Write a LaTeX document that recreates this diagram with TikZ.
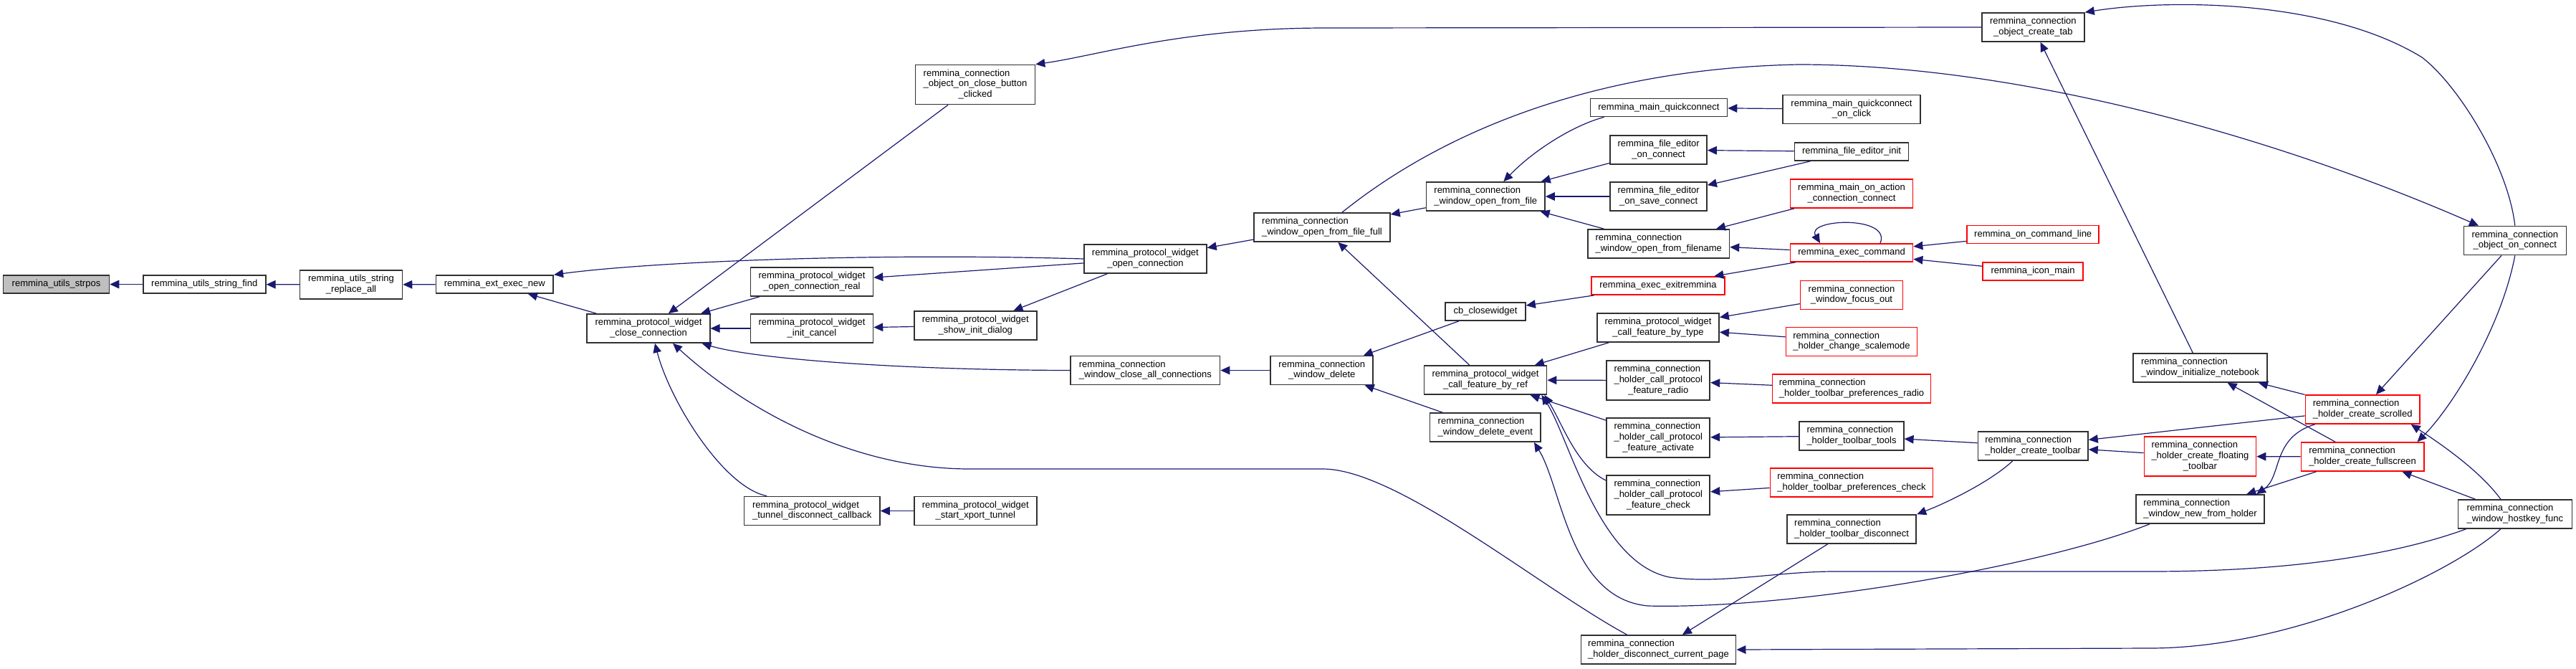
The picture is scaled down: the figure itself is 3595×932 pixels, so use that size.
\documentclass[tikz,border=0pt]{standalone}
\usepackage{fontspec}
\setmainfont{Liberation Sans}
\usepackage{tikz}
\usetikzlibrary{arrows.meta}
\definecolor{edgeblue}{HTML}{191970}
\definecolor{boxline}{HTML}{303030}
\definecolor{focus}{HTML}{BFBFBF}
\definecolor{cutred}{HTML}{FF0000}
\newcommand{\graphfont}{\fontsize{6.5}{7.35}\selectfont}
\newcommand{\lbl}[2]{\begin{tabular}{@{}l@{}}#1\\\multicolumn{1}{@{}c@{}}{#2}\end{tabular}}

\begin{document}
\begin{tikzpicture}[
  x=0.5pt,y=-0.5pt,
  font=\graphfont,
  fn/.style={draw=boxline,line width=0.85pt,fill=white,inner sep=0pt,
    minimum height=12.5pt,text=black},
  twoline/.style={minimum height=20pt},
  threeline/.style={minimum height=27.5pt},
  trunc/.style={draw=cutred},
  call/.style={{Triangle[length=6.5pt,width=5.8pt]}-,draw=edgeblue,fill=none,line width=0.6pt}
]
\useasboundingbox (0,0) rectangle (3595,932);

\node[fn,fill=focus,minimum width=73.9pt] (strpos) at (78.5,396.5) {remmina\_utils\_strpos};
\node[fn,minimum width=85.5pt] (sfind) at (285.3,396.5) {remmina\_utils\_string\_find};
\node[fn,twoline,minimum width=71.4pt] (sreplace) at (490,397) {\lbl{remmina\_utils\_string}{\_replace\_all}};
\node[fn,minimum width=81.9pt] (extnew) at (690.3,396.5) {remmina\_ext\_exec\_new};
\node[fn,twoline,minimum width=85.7pt] (pwclose) at (905,458) {\lbl{remmina\_protocol\_widget}{\_close\_connection}};
\node[fn,twoline,minimum width=85.4pt] (pwopenreal) at (1133,393) {\lbl{remmina\_protocol\_widget}{\_open\_connection\_real}};
\node[fn,twoline,minimum width=85.4pt] (pwcancel) at (1133,458) {\lbl{remmina\_protocol\_widget}{\_init\_cancel}};
\node[fn,twoline,minimum width=94.7pt] (pwtunnel) at (1133.2,712.5) {\lbl{remmina\_protocol\_widget}{\_tunnel\_disconnect\_callback}};
\node[fn,threeline,minimum width=83.4pt] (closebtn) at (1361,118) {\lbl{remmina\_connection\\\_object\_on\_close\_button}{\_clicked}};
\node[fn,twoline,minimum width=85.4pt] (pwopen) at (1598.4,361) {\lbl{remmina\_protocol\_widget}{\_open\_connection}};
\node[fn,twoline,minimum width=85.5pt] (pwinitdlg) at (1361.3,454) {\lbl{remmina\_protocol\_widget}{\_show\_init\_dialog}};
\node[fn,twoline,minimum width=104.1pt] (closeall) at (1598.4,516.5) {\lbl{remmina\_connection}{\_window\_close\_all\_connections}};
\node[fn,twoline,minimum width=85.5pt] (pwxport) at (1361.3,712.5) {\lbl{remmina\_protocol\_widget}{\_start\_xport\_tunnel}};
\node[fn,twoline,minimum width=94.9pt] (openfull) at (1845,317) {\lbl{remmina\_connection}{\_window\_open\_from\_file\_full}};
\node[fn,twoline,minimum width=71.5pt] (windelete) at (1844.8,516.5) {\lbl{remmina\_connection}{\_window\_delete}};
\node[fn,twoline,minimum width=82.7pt] (openfile) at (2073.3,274) {\lbl{remmina\_connection}{\_window\_open\_from\_file}};
\node[fn,minimum width=56pt] (cbclose) at (2073,434.5) {cb\_closewidget};
\node[fn,twoline,minimum width=85.5pt] (byref) at (2073,530) {\lbl{remmina\_protocol\_widget}{\_call\_feature\_by\_ref}};
\node[fn,twoline,minimum width=77.3pt] (delevent) at (2072.8,596) {\lbl{remmina\_connection}{\_window\_delete\_event}};
\node[fn,minimum width=95.5pt] (mainqc) at (2314.9,150) {remmina\_main\_quickconnect};
\node[fn,twoline,minimum width=67.4pt] (feconnect) at (2314.6,209) {\lbl{remmina\_file\_editor}{\_on\_connect}};
\node[fn,twoline,minimum width=67.4pt] (fesave) at (2314.6,274) {\lbl{remmina\_file\_editor}{\_on\_save\_connect}};
\node[fn,twoline,minimum width=98.7pt] (openname) at (2314.7,340) {\lbl{remmina\_connection}{\_window\_open\_from\_filename}};
\node[fn,trunc,minimum width=92.8pt] (exitrem) at (2314,398.5) {remmina\_exec\_exitremmina};
\node[fn,twoline,minimum width=85pt] (bytype) at (2314,457) {\lbl{remmina\_protocol\_widget}{\_call\_feature\_by\_type}};
\node[fn,threeline,minimum width=72pt] (fradio) at (2314.3,530.5) {\lbl{remmina\_connection\\\_holder\_call\_protocol}{\_feature\_radio}};
\node[fn,threeline,minimum width=72pt] (factivate) at (2314.3,610.5) {\lbl{remmina\_connection\\\_holder\_call\_protocol}{\_feature\_activate}};
\node[fn,threeline,minimum width=72pt] (fcheck) at (2314.3,690.5) {\lbl{remmina\_connection\\\_holder\_call\_protocol}{\_feature\_check}};
\node[fn,twoline,minimum width=108.1pt] (disccur) at (2314.5,906) {\lbl{remmina\_connection}{\_holder\_disconnect\_current\_page}};
\node[fn,twoline,minimum width=95.7pt] (qcclick) at (2584,152.5) {\lbl{remmina\_main\_quickconnect}{\_on\_click}};
\node[fn,minimum width=79.6pt] (feinit) at (2584,211.5) {remmina\_file\_editor\_init};
\node[fn,twoline,trunc,minimum width=85.5pt] (onaction) at (2584,270) {\lbl{remmina\_main\_on\_action}{\_connection\_connect}};
\node[fn,trunc,minimum width=85.5pt] (execcmd) at (2584,352.5) {remmina\_exec\_command};
\node[fn,twoline,trunc,minimum width=71.4pt] (focusout) at (2584,411.5) {\lbl{remmina\_connection}{\_window\_focus\_out}};
\node[fn,twoline,trunc,minimum width=91.5pt] (scalemode) at (2584,476.5) {\lbl{remmina\_connection}{\_holder\_change\_scalemode}};
\node[fn,twoline,trunc,minimum width=110.4pt] (prefradio) at (2584,542) {\lbl{remmina\_connection}{\_holder\_toolbar\_preferences\_radio}};
\node[fn,twoline,minimum width=72.7pt] (tbtools) at (2584,608) {\lbl{remmina\_connection}{\_holder\_toolbar\_tools}};
\node[fn,twoline,trunc,minimum width=113.5pt] (prefcheck) at (2584,673) {\lbl{remmina\_connection}{\_holder\_toolbar\_preferences\_check}};
\node[fn,twoline,minimum width=90.3pt] (tbdisc) at (2584,738) {\lbl{remmina\_connection}{\_holder\_toolbar\_disconnect}};
\node[fn,trunc,minimum width=92pt] (cmdline) at (2837.2,327) {remmina\_on\_command\_line};
\node[fn,trunc,minimum width=69.7pt] (iconmain) at (2837,378.5) {remmina\_icon\_main};
\node[fn,twoline,minimum width=71.6pt] (createtab) at (2837.3,38) {\lbl{remmina\_connection}{\_object\_create\_tab}};
\node[fn,twoline,minimum width=76.7pt] (mktoolbar) at (2837.2,622) {\lbl{remmina\_connection}{\_holder\_create\_toolbar}};
\node[fn,twoline,minimum width=93.5pt] (notebook) at (3070.5,513) {\lbl{remmina\_connection}{\_window\_initialize\_notebook}};
\node[fn,threeline,trunc,minimum width=78pt] (floating) at (3070.4,636.5) {\lbl{remmina\_connection\\\_holder\_create\_floating}{\_toolbar}};
\node[fn,twoline,minimum width=89.6pt] (newholder) at (3070.5,710) {\lbl{remmina\_connection}{\_window\_new\_from\_holder}};
\node[fn,twoline,trunc,minimum width=79.7pt] (scrolled) at (3297.1,571) {\lbl{remmina\_connection}{\_holder\_create\_scrolled}};
\node[fn,twoline,trunc,minimum width=85.6pt] (fullscreen) at (3297,637) {\lbl{remmina\_connection}{\_holder\_create\_fullscreen}};
\node[fn,twoline,minimum width=71.5pt] (objconnect) at (3509.8,335.5) {\lbl{remmina\_connection}{\_object\_on\_connect}};
\node[fn,twoline,minimum width=79.5pt] (hostkey) at (3509.8,717) {\lbl{remmina\_connection}{\_window\_hostkey\_func}};

\draw[call] (strpos) -- (sfind);
\draw[call] (sfind) -- (sreplace);
\draw[call] (sreplace) -- (extnew);
\draw[call] (extnew) -- (pwclose);
\draw[call] (extnew.north east) .. controls (900,366) and (1200,352) .. (pwopen.west);
\draw[call] (pwclose) -- (closebtn);
\draw[call] (pwclose) -- (pwopenreal);
\draw[call] (pwclose) -- (pwcancel);
\draw[call] ([xshift=4.5pt]pwclose.south) .. controls (935,560) and (1010,680) .. ([xshift=-31.5pt]pwtunnel.north);
\draw[call] ([xshift=-6pt]pwclose.south east) .. controls (1050,500) and (1250,516) .. (closeall.west);
\draw[call] ([xshift=17pt]pwclose.south) .. controls (1050,580) and (1200,654) .. (1353,654) -- (1846,654)
  .. controls (1950,654) and (2150,820) .. ([xshift=-22pt]disccur.north);
\draw[call] (pwopenreal) -- (pwopen);
\draw[call] (pwcancel) -- (pwinitdlg);
\draw[call] (pwinitdlg) -- (pwopen);
\draw[call] (pwtunnel) -- (pwxport);
\draw[call] (closebtn.north east) .. controls (1530,78) and (1650,39) .. (1850,39) -- (createtab.west);
\draw[call] (pwopen) -- (openfull);
\draw[call] ([xshift=-25.4pt]objconnect.north) .. controls (3150,180) and (2800,90) .. (2510,90)
  .. controls (2250,95) and (2030,170) .. ([xshift=14pt]openfull.north);
\draw[call] (createtab.north east) .. controls (3030,-2) and (3250,0) .. (3380,80)
  .. controls (3430,118) and (3500,230) .. (objconnect.north);
\draw[call] (openfull) -- (openfile);
\draw[call] (openfull) -- (byref);
\draw[call] (closeall) -- (windelete);
\draw[call] (windelete) -- (cbclose);
\draw[call] (windelete) -- (delevent);
\draw[call] ([xshift=12.5pt]openfile.north) .. controls (2140,210) and (2195,175) .. ([xshift=10pt]mainqc.south west);
\draw[call] (openfile) -- (feconnect);
\draw[call] (openfile) -- (fesave);
\draw[call] (openfile) -- (openname);
\draw[call] (cbclose) -- (exitrem);
\draw[call] (byref) -- (bytype);
\draw[call] (byref) -- (fradio);
\draw[call] (byref) -- (factivate);
\draw[call] ([xshift=-2pt]byref.south east) .. controls (2180,590) and (2200,650) .. ([yshift=-4pt]fcheck.north west);
\draw[call] ([xshift=-4pt]byref.south east) .. controls (2190,610) and (2230,785) .. (2330,805)
  .. controls (2400,815) and (2480,797) .. (2560,797) -- (3000,797)
  .. controls (3250,797) and (3380,760) .. ([xshift=6pt]hostkey.south west);
\draw[call] ([xshift=-5pt]delevent.south east) .. controls (2180,680) and (2190,835) .. (2300,845)
  .. controls (2500,850) and (2850,790) .. ([xshift=10pt]newholder.south west);
\draw[call] (disccur) -- (tbdisc);
\draw[call] (disccur.east) -- (3000,904) .. controls (3200,904) and (3420,800) .. ([xshift=-10pt]hostkey.south);
\draw[call] (mainqc) -- (qcclick);
\draw[call] (feconnect) -- (feinit);
\draw[call] (fesave) -- (feinit);
\draw[call] (openname) -- (onaction);
\draw[call] (openname) -- (execcmd);
\draw[call] (exitrem) -- (execcmd);
\draw[call] ([xshift=-22pt]execcmd.north) .. controls (2520,305) and (2640,300) .. ([xshift=20pt]execcmd.north);
\draw[call] (execcmd) -- (cmdline);
\draw[call] (execcmd) -- (iconmain);
\draw[call] (bytype) -- (focusout);
\draw[call] (bytype) -- (scalemode);
\draw[call] (fradio) -- (prefradio);
\draw[call] (factivate) -- (tbtools);
\draw[call] (fcheck) -- (prefcheck);
\draw[call] (tbtools) -- (mktoolbar);
\draw[call] (tbdisc.north east) .. controls (2720,700) and (2780,670) .. ([xshift=-14.25pt]mktoolbar.south);
\draw[call] (createtab) -- (notebook);
\draw[call] (mktoolbar) -- (scrolled);
\draw[call] (mktoolbar) -- (floating);
\draw[call] (floating) -- (fullscreen);
\draw[call] (notebook) -- (scrolled);
\draw[call] (notebook) -- (fullscreen);
\draw[call] ([xshift=-6pt]newholder.north east) .. controls (3185,665) and (3170,610) .. ([xshift=7pt]scrolled.south west);
\draw[call] (newholder) -- (fullscreen);
\draw[call] (scrolled) -- (objconnect);
\draw[call] ([xshift=-5pt]fullscreen.north east) .. controls (3420,570) and (3490,460) .. (objconnect.south);
\draw[call] ([xshift=-6.5pt]scrolled.south east) .. controls (3400,615) and (3460,655) .. ([xshift=-10pt]hostkey.north);
\draw[call] (fullscreen) -- (hostkey);

\end{tikzpicture}
\end{document}
